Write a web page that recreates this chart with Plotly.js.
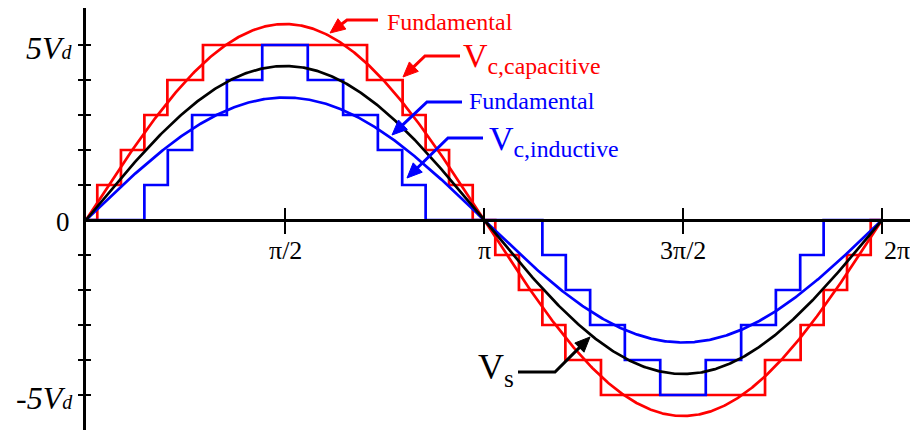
<!DOCTYPE html>
<html>
<head>
<meta charset="utf-8">
<script src="https://cdn.plot.ly/plotly-3.0.1.min.js"></script>
<style>
  html, body { margin: 0; padding: 0; background: #ffffff; }
  #chart { width: 910px; height: 430px; }
</style>
</head>
<body>
<div id="chart"></div>
<script>
// Switching angles (degrees, first quarter-wave) of the 5-level staircase voltages
const capacitiveAngles = [5.1, 15.8, 26.4, 36.8, 52.9];
const inductiveAngles  = [26.4, 37.0, 48.0, 63.7, 79.7];
const stepLevels       = [1, 2, 3, 4, 5];

// Peak amplitudes (in units of V_d) of the sinusoidal waveforms
const capacitiveFundamentalPeak = 5.6;
const inductiveFundamentalPeak  = 3.5;
const sourcePeak                = 4.4;

// Axis tick positions and labels
const xTickVals   = [Math.PI / 2, Math.PI, 3 * Math.PI / 2, 2 * Math.PI];
const xTickLabels = ['\u03c0/2', '\u03c0', '3\u03c0/2', '2\u03c0'];
const yTickVals   = [-5, -4, -3, -2, -1, 1, 2, 3, 4, 5];

const RED = '#ff0000', BLUE = '#0000ff', BLACK = '#000000';
const SERIF = 'Liberation Serif';

// Plot frame in page pixels
const L = 86, R = 910, T = 8, B = 430;
const X0 = 86, X2PI = 882, Y0 = 220, PX_PER_UNIT = 35;
const xMax = 2 * Math.PI * (R - X0) / (X2PI - X0);
const yMax = (Y0 - T) / PX_PER_UNIT;
const yMin = -(B - Y0) / PX_PER_UNIT;
const px = x => (x - L) / (R - L);
const py = y => (B - y) / (B - T);
const deg = d => d * Math.PI / 180;

// Quarter-wave symmetric staircase from its switching angles
function staircase(angles, levels) {
  const a = angles.map(deg);
  const n = a.length;
  const xs = [0], ys = [0];
  for (let i = 0; i < n; i++) { xs.push(a[i]); ys.push(levels[i]); }
  for (let i = n - 1; i >= 0; i--) { xs.push(Math.PI - a[i]); ys.push(i === 0 ? 0 : levels[i - 1]); }
  for (let i = 0; i < n; i++) { xs.push(Math.PI + a[i]); ys.push(-levels[i]); }
  for (let i = n - 1; i >= 0; i--) { xs.push(2 * Math.PI - a[i]); ys.push(i === 0 ? 0 : -levels[i - 1]); }
  xs.push(2 * Math.PI); ys.push(0);
  return { xs, ys };
}

// Sinusoid of a given peak over one period
function sinusoid(peak) {
  const xs = [], ys = [];
  for (let k = 0; k <= 720; k++) {
    const t = 2 * Math.PI * k / 720;
    xs.push(t); ys.push(peak * Math.sin(t));
  }
  return { xs, ys };
}

const capStair = staircase(capacitiveAngles, stepLevels);
const indStair = staircase(inductiveAngles, stepLevels);
const capFund = sinusoid(capacitiveFundamentalPeak);
const indFund = sinusoid(inductiveFundamentalPeak);
const source  = sinusoid(sourcePeak);

const W = 2.7;
const traces = [
  { x: capStair.xs, y: capStair.ys, mode: 'lines', line: { color: RED, width: W, shape: 'hv' } },
  { x: indStair.xs, y: indStair.ys, mode: 'lines', line: { color: BLUE, width: W, shape: 'hv' } },
  { x: capFund.xs, y: capFund.ys, mode: 'lines', line: { color: RED, width: W } },
  { x: indFund.xs, y: indFund.ys, mode: 'lines', line: { color: BLUE, width: W } },
  { x: source.xs, y: source.ys, mode: 'lines', line: { color: BLACK, width: W } },
  // carrier for the overlaid tick axes
  { x: [0], y: [0], xaxis: 'x2', yaxis: 'y2', mode: 'markers', marker: { opacity: 0 }, hoverinfo: 'skip' }
];

const xAxisPos = (0 - yMin) / (yMax - yMin);
const baseX = {
  range: [0, xMax], showgrid: false, zeroline: false, showticklabels: false,
  tickvals: xTickVals, ticklen: 12, tickwidth: 2.5, tickcolor: BLACK,
  anchor: 'free', position: xAxisPos, fixedrange: true
};
const baseY = {
  range: [yMin, yMax], showgrid: false, zeroline: false, showticklabels: false,
  tickvals: yTickVals, ticklen: 5, tickwidth: 2.5, tickcolor: BLACK, fixedrange: true
};

// Bent leader arrows: [tip, corner, end] in page pixels
const leaders = [
  { color: RED,   tip: [330, 33],  corner: [347, 20],  end: [378, 20] },
  { color: RED,   tip: [403, 77],  corner: [425, 56],  end: [460, 56] },
  { color: BLUE,  tip: [392, 135], corner: [427, 102], end: [462, 102] },
  { color: BLUE,  tip: [407, 178], corner: [448, 138], end: [483, 138] },
  { color: BLACK, tip: [590, 337], corner: [555, 372], end: [518, 372] }
];

const HEAD_LEN = 15, HEAD_HALF = 6.5;
const shapes = [];
leaders.forEach(l => {
  const [tx, ty] = l.tip, [cx, cy] = l.corner;
  const dx = tx - cx, dy = ty - cy, len = Math.hypot(dx, dy);
  const ux = dx / len, uy = dy / len;
  const bx = tx - ux * HEAD_LEN, by = ty - uy * HEAD_LEN;
  // shaft: end -> corner -> base of head
  shapes.push({
    type: 'path', xref: 'paper', yref: 'paper',
    path: `M${px(l.end[0])},${py(l.end[1])} L${px(cx)},${py(cy)} L${px(bx + ux)},${py(by + uy)}`,
    line: { color: l.color, width: 3 }
  });
  // filled head
  const p1 = [bx - uy * HEAD_HALF, by + ux * HEAD_HALF];
  const p2 = [bx + uy * HEAD_HALF, by - ux * HEAD_HALF];
  shapes.push({
    type: 'path', xref: 'paper', yref: 'paper',
    path: `M${px(tx)},${py(ty)} L${px(p1[0])},${py(p1[1])} L${px(p2[0])},${py(p2[1])} Z`,
    fillcolor: l.color, line: { color: l.color, width: 1 }
  });
});

const annotations = [];

// Waveform labels
const labels = [
  { text: 'Fundamental', x: 385, y: 22, color: RED, size: 24 },
  { text: 'V<sub>c,capacitive</sub>', x: 461, y: 58, color: RED, size: 34 },
  { text: 'Fundamental', x: 467, y: 101, color: BLUE, size: 24 },
  { text: 'V<sub>c,inductive</sub>', x: 487, y: 141, color: BLUE, size: 34 },
  { text: 'V<sub>s</sub>', x: 476, y: 369, color: BLACK, size: 36 }
];
labels.forEach(t => annotations.push({
  xref: 'paper', yref: 'paper', x: px(t.x), y: py(t.y), xanchor: 'left', yanchor: 'middle',
  text: t.text, showarrow: false, font: { family: SERIF, size: t.size, color: t.color }
}));

// Axis labels
xTickVals.forEach((v, i) => annotations.push({
  xref: 'x', yref: 'paper', x: v, y: py(234), xanchor: i === 3 ? 'left' : 'center', yanchor: 'top',
  text: xTickLabels[i], showarrow: false, font: { family: SERIF, size: 26, color: BLACK }
}));
annotations.push({
  xref: 'paper', yref: 'y', x: px(72), y: 0, xanchor: 'right', yanchor: 'middle', yshift: -2,
  text: '0', showarrow: false, font: { family: SERIF, size: 27, color: BLACK }
});
[5, -5].forEach(v => annotations.push({
  xref: 'paper', yref: 'y', x: px(75), y: v, xanchor: 'right', yanchor: 'middle', yshift: -3,
  text: '<i>' + (v < 0 ? '-' : '') + '5V<span style="font-size:20px">d</span></i>',
  showarrow: false, font: { family: SERIF, size: 32, color: BLACK }
}));

const layout = {
  width: 910, height: 430,
  margin: { l: L, r: 910 - R, t: T, b: 430 - B, pad: 0 },
  paper_bgcolor: '#ffffff', plot_bgcolor: '#ffffff',
  showlegend: false,
  xaxis: Object.assign({}, baseX, { ticks: 'outside', showline: true, linewidth: 2.8, linecolor: BLACK }),
  xaxis2: Object.assign({}, baseX, { ticks: 'inside', overlaying: 'x', showline: false }),
  yaxis: Object.assign({}, baseY, { ticks: 'outside', showline: true, linewidth: 2.8, linecolor: BLACK }),
  yaxis2: Object.assign({}, baseY, { ticks: 'inside', overlaying: 'y', showline: false, anchor: 'x' }),
  shapes: shapes,
  annotations: annotations
};

Plotly.newPlot('chart', traces, layout, { staticPlot: true, displayModeBar: false });
</script>
</body>
</html>
